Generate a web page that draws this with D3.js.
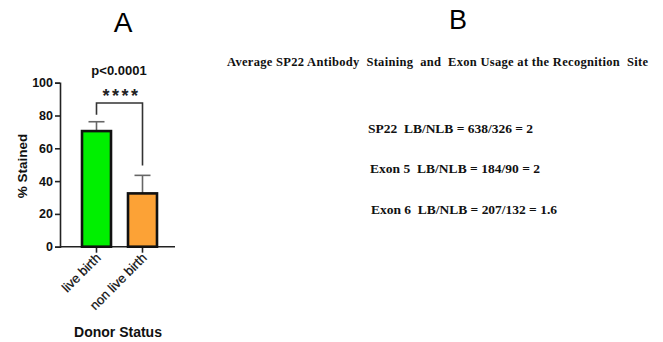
<!DOCTYPE html>
<html><head><meta charset="utf-8">
<script src="https://cdn.jsdelivr.net/npm/d3@7"></script>
<style>body{margin:0;background:#fff}</style>
</head><body>
<svg id="c" width="663" height="342"></svg>
<script>
const categories = ["live birth", "non live birth"];
const means = [70.5, 32.5];
const errors = [5.7, 11];
const yTicks = [0, 20, 40, 60, 80, 100];
const pText = "p<0.0001";
const sigText = "****";
const panelBLines = ["SP22  LB/NLB = 638/326 = 2", "Exon 5  LB/NLB = 184/90 = 2", "Exon 6  LB/NLB = 207/132 = 1.6"];
const panelBTitle = "Average SP22 Antibody  Staining  and  Exon Usage at the Recognition  Site";
const bracketLevel = 87.6;
const bracketEnds = [80.5, 49.5];
const colors = ["#00f000", "#fca236"];

const svg = d3.select("#c");
const y = d3.scaleLinear().domain([0, 100]).range([246.7, 82.7]);
const x = d3.scaleBand().domain(categories).range([70, 169]).paddingInner(0.37).paddingOuter(0.261);

// panel letters
svg.append("text").attr("x", 123).attr("y", 32).attr("text-anchor", "middle")
  .style("font-family", "Liberation Sans, Arial, sans-serif").style("font-size", "28px").text("A");
svg.append("text").attr("x", 458).attr("y", 29).attr("text-anchor", "middle")
  .style("font-family", "Liberation Sans, Arial, sans-serif").style("font-size", "27px").text("B");

// y axis
const ya = svg.append("g").attr("transform", "translate(60,0)")
  .call(d3.axisLeft(y).tickValues(yTicks).tickSize(5).tickPadding(2));
ya.select(".domain").attr("stroke", "#222").attr("stroke-width", 1.6);
ya.selectAll(".tick line").attr("stroke", "#222").attr("stroke-width", 1.6);
ya.selectAll(".tick text").style("font-family", "Liberation Sans, Arial, sans-serif")
  .style("font-size", "12.5px").style("font-weight", "bold").attr("fill", "#111");

// x axis
const xa = svg.append("g").attr("transform", `translate(0,${y(0)})`)
  .call(d3.axisBottom(x).tickSize(6).tickSizeOuter(0).tickFormat(""));
xa.select(".domain").attr("d", `M60,0H175`).attr("stroke", "#222").attr("stroke-width", 1.6);
xa.selectAll(".tick line").attr("stroke", "#222").attr("stroke-width", 1.6);

// x labels
svg.selectAll(".xl").data(categories).join("text").attr("class", "xl")
  .attr("transform", d => `translate(${x(d) + x.bandwidth() / 2 + 5},${y(0) + 12}) rotate(-45)`)
  .attr("text-anchor", "end")
  .style("font-family", "Liberation Sans, Arial, sans-serif").style("font-size", "13px").attr("fill", "#111")
  .attr("stroke", "#111").attr("stroke-width", 0.25)
  .text(d => d);

// error bars (upper)
const eg = svg.append("g");
categories.forEach((c, i) => {
  const cx = x(c) + x.bandwidth() / 2;
  eg.append("line").attr("x1", cx).attr("x2", cx).attr("y1", y(means[i])).attr("y2", y(means[i] + errors[i]))
    .attr("stroke", "#666").attr("stroke-width", 1.6);
  eg.append("line").attr("x1", cx - 8).attr("x2", cx + 8).attr("y1", y(means[i] + errors[i])).attr("y2", y(means[i] + errors[i]))
    .attr("stroke", "#666").attr("stroke-width", 1.6);
});

// bars
svg.selectAll(".bar").data(categories).join("rect").attr("class", "bar")
  .attr("x", d => x(d)).attr("width", x.bandwidth())
  .attr("y", (d, i) => y(means[i])).attr("height", (d, i) => y(0) - y(means[i]))
  .attr("fill", (d, i) => colors[i]).attr("stroke", "#111").attr("stroke-width", 2.6);

// bracket
const bx = categories.map(c => x(c) + x.bandwidth() / 2);
svg.append("path")
  .attr("d", `M${bx[0]},${y(bracketEnds[0])}V${y(bracketLevel)}H${bx[1]}V${y(bracketEnds[1])}`)
  .attr("fill", "none").attr("stroke", "#333").attr("stroke-width", 1.6);
svg.append("text").attr("x", (bx[0] + bx[1]) / 2 + 2).attr("y", y(bracketLevel) - 1).attr("text-anchor", "middle")
  .style("font-family", "Liberation Sans, Arial, sans-serif").style("font-size", "18px").style("font-weight", "bold")
  .style("letter-spacing", "2.5px").attr("fill", "#222").text(sigText);
svg.append("text").attr("x", 119).attr("y", 75).attr("text-anchor", "middle")
  .style("font-family", "Liberation Sans, Arial, sans-serif").style("font-size", "13px").style("font-weight", "bold").attr("fill", "#111").text(pText);

// axis titles
svg.append("text").attr("transform", `translate(27,166) rotate(-90)`).attr("text-anchor", "middle")
  .style("font-family", "Liberation Sans, Arial, sans-serif").style("font-size", "13.5px").style("font-weight", "bold").attr("fill", "#111").text("% Stained");
svg.append("text").attr("x", 118).attr("y", 337).attr("text-anchor", "middle")
  .style("font-family", "Liberation Sans, Arial, sans-serif").style("font-size", "14px").style("font-weight", "bold").attr("fill", "#111").text("Donor Status");

// panel B
svg.append("text").attr("x", 227).attr("y", 66).attr("textLength", 421).attr("lengthAdjust", "spacing")
  .style("font-family", "Liberation Serif, Times New Roman, serif").style("font-size", "12.5px").style("font-weight", "bold")
  .style("white-space", "pre").attr("xml:space", "preserve").attr("fill", "#111").text(panelBTitle);
const bx0 = [368, 370, 371], bw = [165, 170, 186], by = [133, 173, 214];
panelBLines.forEach((t, i) => {
  svg.append("text").attr("x", bx0[i]).attr("y", by[i]).attr("textLength", bw[i]).attr("lengthAdjust", "spacing")
    .attr("xml:space", "preserve").style("white-space", "pre")
    .style("font-family", "Liberation Serif, Times New Roman, serif").style("font-size", "13.5px").style("font-weight", "bold")
    .attr("fill", "#111").text(t);
});
</script>
</body></html>
